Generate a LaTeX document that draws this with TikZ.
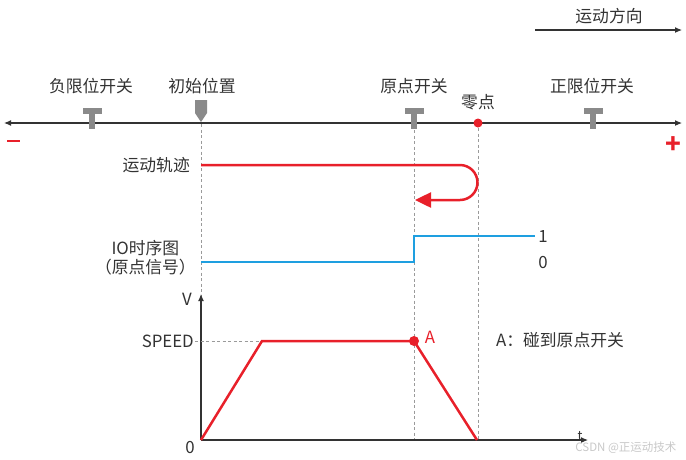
\documentclass[tikz,border=0pt]{standalone}
\usepackage{fontspec}
\setmainfont{Noto Sans CJK SC}
\usetikzlibrary{positioning,arrows.meta}
\definecolor{ink}{HTML}{333333}
\definecolor{swgray}{HTML}{8A8A8A}
\definecolor{guide}{HTML}{9A9A9A}
\definecolor{trkred}{HTML}{E8202A}
\definecolor{iob}{HTML}{1E9FE0}
\definecolor{mark}{HTML}{C8C8C8}

\begin{document}
\begin{tikzpicture}[
  x=1pt,y=-1pt,
  lbl/.style={inner sep=1pt,font=\fontsize{16.8}{19}\selectfont,text=ink},
  axis/.style={draw=ink,line width=1.1pt,-{Latex[length=7pt,width=6pt]}},
  guideln/.style={draw=guide,line width=0.7pt,dash pattern=on 3pt off 2.5pt},
  trk/.style={draw=trkred,line width=2.5pt},
  ioln/.style={draw=iob,line width=2.6pt},
  limsw/.pic={\fill[swgray] (-9.5,-15) rectangle (9.5,-9);
              \fill[swgray] (-3,-9) rectangle (3,6);}
]
\useasboundingbox (0,0) rectangle (686,459);

% position axis
\coordinate (axL) at (4,123);
\coordinate (axR) at (682,123);
\coordinate (axM) at (340,123);
\draw[axis] (axM) -- (axR);
\draw[axis] (axM) -- (axL);
\node[fill=trkred,minimum width=13pt,minimum height=2.2pt,inner sep=0pt] (minus) at (13,141) {};
\node[text=trkred,font=\fontsize{26}{26}\selectfont\bfseries] (plus) at (673,145) {+};

% direction of motion
\node[lbl] (dir) at (609,16) {运动方向};
\coordinate (dirS) at (535,30);
\coordinate (dirE) at (682,30);
\draw[axis] (dirS) -- (dirE);

% switches and marks
\pic at (92,123) {limsw};
\pic at (414,123) {limsw};
\pic at (593,123) {limsw};
\fill[swgray] (195,100) -- (207,100) -- (207,113) -- (201,122) -- (195,113) -- cycle;
\node[lbl] (neg) at (91,86) {负限位开关};
\node[lbl] (start) at (202,86) {初始位置};
\node[lbl] (orig) at (414,86) {原点开关};
\node[lbl] (pos) at (592,86) {正限位开关};
\node[lbl] (zero) at (478,102) {零点};
\fill[trkred] (478,123) circle (4.5);

% guide lines
\draw[guideln] (201,124) -- (201,296);
\draw[guideln] (414,130) -- (414,440);
\draw[guideln] (478,128) -- (478,440);

% motion track
\node[lbl,anchor=east] (trkL) at (191,165) {运动轨迹};
\coordinate (trS) at (201,165);
\coordinate (trA) at (460,165);
\coordinate (trE) at (415,200);
\draw[trk,-{Triangle[length=16pt,width=15pt]}] (trS) -- (trA)
  arc[start angle=-90,end angle=90,radius=17.5] -- (trE);

% IO signal
\node[lbl,anchor=east,align=center] (ioL) at (197,258) {IO时序图\\（原点信号）};
\coordinate (ioS) at (201,262);
\coordinate (ioU) at (414,236);
\coordinate (ioE) at (535,236);
\draw[ioln] (ioS) -| (ioU) -- (ioE);
\node[lbl] (one) at (543,237) {1};
\node[lbl] (nil) at (543,263) {0};

% speed curve
\coordinate (org) at (201,440);
\coordinate (vtop) at (201,294);
\coordinate (tend) at (588,440);
\draw[axis] (org) -- (vtop);
\draw[axis] (org) -- (tend);
\node[lbl] (vlab) at (187,299) {V};
\node[lbl,font=\fontsize{13}{13}\selectfont] (tlab) at (580,436) {t};
\node[lbl] (o) at (190,448) {0};
\node[lbl,anchor=east] (spd) at (195,341) {SPEED};
\draw[guideln] (spd.east) -- (262,341);
\coordinate (up) at (262,341);
\coordinate (ptA) at (414,341);
\coordinate (stop) at (477,440);
\draw[trk,line join=miter] (org) -- (up) -- (ptA) -- (stop);
\fill[trkred] (ptA) circle (5);
\node[lbl,text=trkred] (alab) at (430,337) {A};
\node[lbl] (note) at (560,340) {A：碰到原点开关};

\node[text=mark,font=\fontsize{11.5}{12}\selectfont,anchor=east] (wm) at (680,448) {CSDN @正运动技术};
\end{tikzpicture}
\end{document}
